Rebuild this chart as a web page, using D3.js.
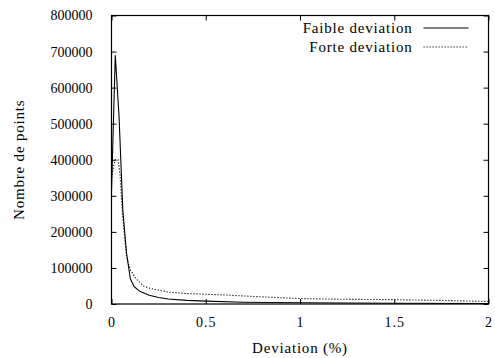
<!DOCTYPE html>
<html>
<head>
<meta charset="utf-8">
<script src="https://cdn.jsdelivr.net/npm/d3@7"></script>
<style>
  html, body { margin: 0; padding: 0; background: #fff; }
</style>
</head>
<body>
<div id="chart"></div>
<script>
// Deviation (%) sample positions and point counts
const faibleX = [0, 0.02, 0.04, 0.06, 0.08, 0.1, 0.12, 0.15, 0.2, 0.25, 0.3, 0.4, 0.5, 0.7, 1.0, 1.5, 2.0];
const faibleY = [310000, 690000, 520000, 260000, 140000, 70000, 48000, 35000, 24000, 18000, 14000, 10000, 8000, 5000, 3500, 2000, 1200];

const forteX = [0, 0.01, 0.02, 0.035, 0.045, 0.06, 0.08, 0.1, 0.13, 0.17, 0.2, 0.3, 0.4, 0.5, 0.6, 0.75, 1.0, 1.25, 1.5, 1.75, 2.0];
const forteY = [350000, 380000, 400000, 400000, 360000, 240000, 130000, 95000, 70000, 50000, 44000, 33000, 29000, 27000, 25000, 21000, 15000, 13000, 12000, 10000, 7000];

const xTicks = [0, 0.5, 1, 1.5, 2];
const yTicks = [0, 100000, 200000, 300000, 400000, 500000, 600000, 700000, 800000];
const seriesNames = ['Faible deviation', 'Forte deviation'];

const fontFamily = '"Liberation Serif", Tinos, serif';
const tickSize = 14;
const labelSize = 15;
const labelSpacing = '0.8px';

const width = 495, height = 358;
const margin = { top: 15.5, right: 6.5, bottom: 54, left: 111.5 };
const innerWidth = width - margin.left - margin.right;
const innerHeight = height - margin.top - margin.bottom;

const svg = d3.select('#chart').append('svg')
  .attr('width', width)
  .attr('height', height)
  .style('font-family', fontFamily);

const g = svg.append('g')
  .attr('transform', `translate(${margin.left},${margin.top})`);

const x = d3.scaleLinear().domain([0, 2]).range([0, innerWidth]);
const y = d3.scaleLinear().domain([0, 800000]).range([innerHeight, 0]);

function styleAxis(sel, hideText) {
  sel.attr('font-family', null).attr('font-size', null);
  sel.select('.domain').remove();
  sel.selectAll('.tick line').attr('stroke', '#000');
  sel.selectAll('text').attr('fill', '#000').style('font-size', tickSize + 'px');
  if (hideText) sel.selectAll('text').remove();
}

// Axes (ticks pointing inward, mirrored on top and right)
g.append('g')
  .attr('transform', `translate(0,${innerHeight})`)
  .call(d3.axisBottom(x).tickValues(xTicks).tickFormat(d3.format('')).tickSizeInner(-5).tickSizeOuter(0).tickPadding(13))
  .call(s => styleAxis(s, false))
  .selectAll('text').style('letter-spacing', '1px');

g.append('g')
  .call(d3.axisTop(x).tickValues(xTicks).tickSizeInner(-5).tickSizeOuter(0))
  .call(s => styleAxis(s, true));

g.append('g')
  .call(d3.axisLeft(y).tickValues(yTicks).tickFormat(d3.format('d')).tickSizeInner(-5).tickSizeOuter(0).tickPadding(19))
  .call(s => styleAxis(s, false));

g.append('g')
  .attr('transform', `translate(${innerWidth},0)`)
  .call(d3.axisRight(y).tickValues(yTicks).tickSizeInner(-5).tickSizeOuter(0))
  .call(s => styleAxis(s, true));

// Lines
const line = d3.line().x(d => x(d[0])).y(d => y(d[1]));

g.append('path')
  .datum(faibleX.map((v, i) => [v, faibleY[i]]))
  .attr('fill', 'none')
  .attr('stroke', '#000')
  .attr('stroke-width', 1.1)
  .attr('d', line);

g.append('path')
  .datum(forteX.map((v, i) => [v, forteY[i]]))
  .attr('fill', 'none')
  .attr('stroke', '#000')
  .attr('stroke-width', 1.1)
  .attr('stroke-dasharray', '1.2,1.8')
  .attr('d', line);

// Frame
g.append('rect')
  .attr('width', innerWidth)
  .attr('height', innerHeight)
  .attr('fill', 'none')
  .attr('stroke', '#000')
  .attr('stroke-width', 1.2);

// Legend
const legend = g.append('g');
seriesNames.forEach((name, i) => {
  const ly = 12.5 + i * 19;
  legend.append('text')
    .attr('x', 301)
    .attr('y', ly)
    .attr('dy', '0.35em')
    .attr('text-anchor', 'end')
    .style('font-size', labelSize + 'px')
    .style('letter-spacing', labelSpacing)
    .text(name);
  legend.append('line')
    .attr('x1', 312).attr('x2', 357)
    .attr('y1', ly).attr('y2', ly)
    .attr('stroke', '#000')
    .attr('stroke-width', 1.1)
    .attr('stroke-dasharray', i === 0 ? null : '1.2,1.8');
});

// Axis titles
svg.append('text')
  .attr('x', margin.left + innerWidth / 2)
  .attr('y', 352.5)
  .attr('text-anchor', 'middle')
  .style('font-size', labelSize + 'px')
  .style('letter-spacing', labelSpacing)
  .text('Deviation (%)');

svg.append('text')
  .attr('transform', `translate(24,${margin.top + innerHeight / 2}) rotate(-90)`)
  .attr('text-anchor', 'middle')
  .style('font-size', labelSize + 'px')
  .style('letter-spacing', labelSpacing)
  .text('Nombre de points');
</script>
</body>
</html>
